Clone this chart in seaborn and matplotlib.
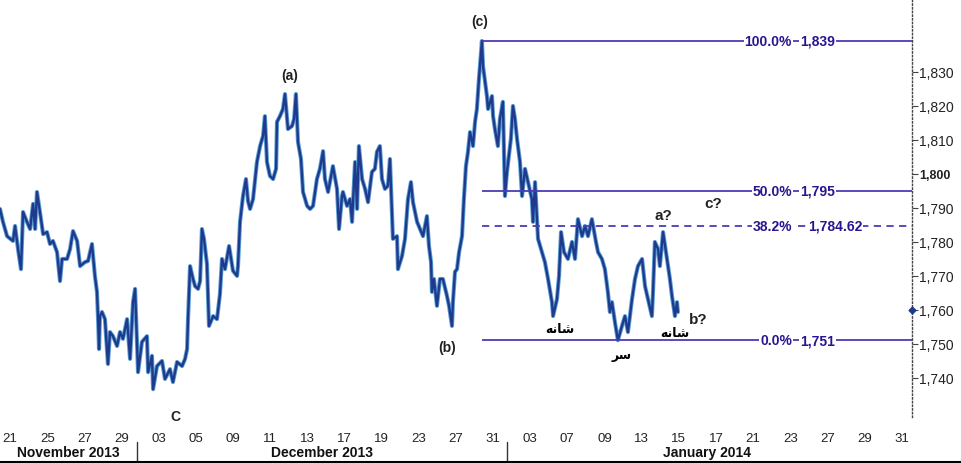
import matplotlib
matplotlib.use("Agg")
import matplotlib.pyplot as plt
import matplotlib.transforms as mtransforms
from matplotlib.lines import Line2D
import pandas as pd
import seaborn as sns

# price path, x = trading-day index (0 = 21 Nov 2013)
days = [-0.54, -0.38, -0.16, 0.16, 0.27, 0.43, 0.59, 0.70, 0.91, 1.08,
        1.24, 1.35, 1.45, 1.61, 1.78, 1.99, 2.15, 2.31, 2.53, 2.69,
        2.80, 3.07, 3.23, 3.39, 3.61, 3.77, 4.04, 4.20, 4.41, 4.47,
        4.57, 4.68, 4.74, 4.79, 4.84, 4.95, 5.11, 5.27, 5.38, 5.54,
        5.76, 5.92, 6.08, 6.30, 6.46, 6.62, 6.73, 6.84, 6.89, 7.10,
        7.37, 7.43, 7.64, 7.70, 7.91, 8.18, 8.34, 8.61, 8.77, 8.99,
        9.26, 9.42, 9.53, 9.58, 9.69, 9.85, 9.96, 10.12, 10.23, 10.33,
        10.44, 10.60, 10.71, 10.93, 11.14, 11.30, 11.41, 11.57, 11.79, 12.00,
        12.22, 12.27, 12.38, 12.54, 12.70, 12.81, 12.92, 13.08, 13.29, 13.46,
        13.62, 13.72, 13.83, 13.99, 14.16, 14.32, 14.37, 14.53, 14.69, 14.80,
        14.96, 15.18, 15.29, 15.39, 15.50, 15.66, 15.77, 15.99, 16.15, 16.31,
        16.52, 16.68, 16.85, 16.95, 17.12, 17.38, 17.60, 17.71, 17.87, 17.92,
        18.14, 18.30, 18.41, 18.57, 18.68, 18.78, 18.95, 19.11, 19.27, 19.48,
        19.64, 19.75, 19.91, 20.02, 20.18, 20.34, 20.45, 20.56, 20.61, 20.83,
        20.88, 21.10, 21.26, 21.42, 21.58, 21.69, 21.91, 22.07, 22.23, 22.44,
        22.55, 22.66, 22.71, 22.82, 22.98, 23.14, 23.30, 23.52, 23.63, 23.79,
        23.84, 23.95, 24.06, 24.17, 24.33, 24.43, 24.54, 24.65, 24.76, 24.92,
        25.03, 25.13, 25.24, 25.40, 25.46, 25.57, 25.67, 25.73, 25.94, 26.00,
        26.10, 26.26, 26.37, 26.53, 26.64, 26.75, 26.96, 27.07, 27.18, 27.29,
        27.45, 27.56, 27.72, 28.09, 28.15, 28.26, 28.42, 28.63, 28.79, 28.96,
        29.17, 29.23, 29.44, 29.55, 29.66, 29.82, 30.03, 30.25, 30.41, 30.57,
        30.79, 30.95, 31.11, 31.32, 31.54, 31.65, 31.86, 32.02, 32.18, 32.29,
        32.40, 32.56, 32.72, 32.94, 33.10, 33.26, 33.48, 33.64, 33.80, 34.02,
        34.18, 34.34, 34.55, 34.61, 34.71, 34.88, 34.98, 35.15, 35.36, 35.52,
        35.63, 35.79, 35.90, 35.95]
prices = [1789.6, 1785.8, 1781.6, 1780.2, 1784.6, 1777.8, 1771.9, 1788.7, 1785.8, 1783.7,
          1791.1, 1783.7, 1794.6, 1788.7, 1782.2, 1782.8, 1779.3, 1780.2, 1776.9, 1768.4,
          1774.9, 1774.9, 1777.8, 1783.1, 1780.2, 1772.8, 1774.0, 1774.3, 1779.3, 1775.8,
          1769.9, 1765.2, 1757.2, 1748.4, 1758.1, 1759.3, 1757.2, 1744.0, 1753.4, 1752.2,
          1749.3, 1753.4, 1751.4, 1757.2, 1745.5, 1762.2, 1766.1, 1749.3, 1741.6, 1750.5,
          1752.2, 1741.6, 1746.4, 1736.6, 1743.4, 1744.9, 1739.6, 1742.5, 1738.7, 1744.6,
          1743.4, 1745.5, 1748.4, 1757.2, 1772.8, 1769.0, 1766.9, 1766.1, 1768.4, 1783.7,
          1780.8, 1773.4, 1755.2, 1758.1, 1757.2, 1764.6, 1774.9, 1771.9, 1778.7, 1771.4,
          1769.9, 1772.8, 1785.8, 1793.4, 1798.4, 1791.9, 1789.6, 1792.5, 1803.4, 1808.1,
          1811.1, 1816.9, 1803.4, 1799.3, 1798.4, 1801.4, 1815.2, 1816.9, 1819.0, 1823.4,
          1813.1, 1814.0, 1816.1, 1823.4, 1809.3, 1804.3, 1794.6, 1790.5, 1789.6, 1790.5,
          1798.4, 1801.4, 1806.6, 1798.4, 1794.6, 1802.2, 1795.5, 1783.7, 1793.4, 1794.6,
          1790.5, 1792.5, 1785.8, 1803.4, 1789.6, 1808.1, 1798.4, 1795.5, 1791.6, 1800.5,
          1801.4, 1806.4, 1808.1, 1798.4, 1795.5, 1796.4, 1804.3, 1788.7, 1780.8, 1781.6,
          1771.9, 1775.8, 1780.8, 1792.5, 1797.5, 1791.6, 1785.8, 1783.7, 1781.6, 1787.5,
          1778.7, 1774.0, 1765.2, 1769.0, 1761.1, 1769.0, 1769.0, 1764.0, 1761.1, 1755.2,
          1762.2, 1771.1, 1771.9, 1776.9, 1781.6, 1792.5, 1802.2, 1806.4, 1812.2, 1808.1,
          1815.2, 1819.0, 1827.8, 1839.0, 1831.6, 1826.9, 1822.8, 1819.0, 1822.8, 1816.9,
          1813.1, 1808.1, 1816.1, 1821.1, 1793.4, 1800.5, 1810.2, 1819.9, 1816.1, 1810.2,
          1803.4, 1793.4, 1801.4, 1792.5, 1785.8, 1797.5, 1780.8, 1776.9, 1774.0, 1769.0,
          1762.2, 1758.1, 1763.1, 1769.9, 1782.8, 1776.9, 1774.9, 1779.9, 1774.9, 1786.6,
          1781.6, 1784.6, 1781.6, 1786.6, 1779.9, 1776.9, 1774.9, 1771.9, 1765.2, 1759.3,
          1762.2, 1756.3, 1751.0, 1755.2, 1758.1, 1753.4, 1763.1, 1769.0, 1772.8, 1774.9,
          1766.9, 1763.1, 1758.1, 1765.2, 1779.9, 1777.8, 1772.8, 1782.8, 1774.9, 1769.0,
          1764.0, 1758.1, 1762.2, 1759.3]

# fibonacci retracement levels
fib_pcts = ["100.0%", "50.0%", "38.2%", "0.0%"]
fib_values = [1839, 1795, 1784.62, 1751]
fib_texts = ["1,839", "1,795", "1,784.62", "1,751"]
fib_start = 25.40

# x axis
tick_days = list(range(0, 49, 2))
tick_labels = ["21", "25", "27", "29", "03", "05", "09", "11", "13", "17", "19", "23", "27",
               "31", "03", "07", "09", "13", "15", "17", "21", "23", "27", "29", "31"]
months = ["November 2013", "December 2013", "January 2014"]
month_centers = [3.12, 16.79, 37.51]
month_breaks = [6.82, 26.75]

yticks = list(range(1740, 1831, 10))
last_price = 1760

df = pd.DataFrame({"day": days, "price": prices})

sns.set_style("white")
plt.rcParams["font.family"] = ["Liberation Sans", "DejaVu Sans"]

fig = plt.figure(figsize=(9.61, 4.64), dpi=100)
ax = fig.add_axes([0.0, 0.099, 0.949, 0.901])

sns.lineplot(data=df, x="day", y="price", ax=ax, color="#5a9fd4", lw=3.0,
             estimator=None, sort=False, zorder=2)
sns.lineplot(data=df, x="day", y="price", ax=ax, color="#1f3a8c", lw=1.7,
             estimator=None, sort=False, zorder=3)

xmax = 48.55
ax.set_xlim(-0.54, xmax)
ax.set_ylim(1728.4, 1851.35)

# fib lines + labels
for pct, val, txt in zip(fib_pcts, fib_values, fib_texts):
    ls = (0, (4, 3)) if pct == "38.2%" else "-"
    ax.hlines(val, fib_start, xmax, colors="#4b3cb4", lw=1.3, linestyles=ls, zorder=4)
    box = dict(facecolor="white", edgecolor="none", pad=0.6)
    ax.text(42.09, val, pct, ha="right", va="center", fontsize=10, fontweight="bold",
            color="#2a1590", bbox=box, zorder=5)
    vx = 42.95 if pct == "38.2%" else 42.52
    ax.text(vx, val, txt, ha="left", va="center", fontsize=10, fontweight="bold",
            color="#2a1590", bbox=box, zorder=5)

# wave labels
wave = dict(ha="center", va="center", fontweight="bold", color="#222222")
ax.text(25.3, 1844.9, "(c)", fontsize=10, **wave)
ax.text(15.07, 1829.0, "(a)", fontsize=10, **wave)
ax.text(23.52, 1749.0, "(b)", fontsize=10, **wave)
ax.text(8.88, 1728.6, "C", fontsize=10, clip_on=False, **wave)
ax.text(35.15, 1787.8, "a?", fontsize=11, **wave)
ax.text(37.84, 1791.3, "c?", fontsize=11, **wave)
ax.text(37.03, 1757.2, "b?", fontsize=11, **wave)

# head and shoulders (Persian, pre-shaped glyphs)
shoulder = "\uFEEA\uFEE7\uFE8E\uFEB7"
head = "\uFEAE\uFEB3"
fa = dict(ha="center", va="center", fontsize=9, fontweight="bold", color="black",
          family="DejaVu Sans")
ax.text(29.6, 1754.3, shoulder, **fa)
ax.text(35.8, 1753.4, shoulder, **fa)
ax.text(32.94, 1746.9, head, **fa)

# last price marker on the axis
ax.scatter([xmax], [last_price], marker="D", s=12, color="#1f3a8c", clip_on=False, zorder=6)

# axes styling
for side in ["top", "left", "bottom"]:
    ax.spines[side].set_visible(False)
ax.spines["right"].set_linestyle(":")
ax.spines["right"].set_color("#444444")
ax.spines["right"].set_linewidth(1.0)
ax.yaxis.tick_right()
ax.set_yticks(yticks, [f"{v:,}" for v in yticks])
ax.tick_params(axis="y", direction="out", length=4, width=0.8, color="#444444",
               labelsize=10, pad=1, labelcolor="#222222")
for lab in ax.get_yticklabels():
    if lab.get_text() == "1,800":
        lab.set_fontweight("bold")
        lab.set_fontsize(9)
ax.set_xticks(tick_days, tick_labels)
ax.tick_params(axis="x", direction="out", length=3, width=0.8, color="#555555",
               labelsize=9.5, pad=8, labelcolor="#222222")
ax.set_xlabel("")
ax.set_ylabel("")

# month row
trans = mtransforms.blended_transform_factory(ax.transData, fig.transFigure)
for name, c in zip(months, month_centers):
    ax.text(c, 0.024, name, transform=trans, ha="center", va="center", fontsize=10,
            fontweight="bold", color="#111111", clip_on=False)
for b in month_breaks:
    fig.add_artist(Line2D([b, b], [0.0, 0.045], transform=trans, color="#333333", lw=1))
fig.add_artist(Line2D([0, 1], [0.003, 0.003], transform=fig.transFigure, color="black", lw=1.5))

fig.savefig("out.png", dpi=100)
